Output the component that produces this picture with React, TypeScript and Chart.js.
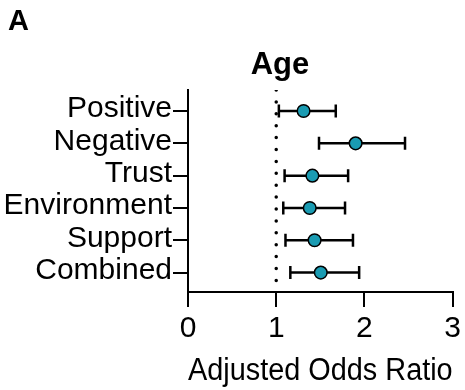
import React, { useEffect, useRef } from "react";
import { Chart, registerables } from "chart.js";

Chart.register(...registerables);

const categories = ["Positive", "Negative", "Trust", "Environment", "Support", "Combined"];
const oddsRatio = [1.31, 1.9, 1.41, 1.38, 1.435, 1.505];
const lowerCI = [1.03, 1.485, 1.095, 1.08, 1.105, 1.16];
const upperCI = [1.675, 2.46, 1.815, 1.78, 1.87, 1.94];
const xTicks = [0, 1, 2, 3];
const referenceValue = 1;

const FONT = "'Liberation Sans', Arial, Helvetica, sans-serif";

const textPlugin = {
  id: "panelText",
  afterDraw(chart: any) {
    const ctx = chart.ctx;
    ctx.save();
    ctx.fillStyle = "#000";
    ctx.textBaseline = "alphabetic";
    ctx.textAlign = "left";
    ctx.font = `bold 29px ${FONT}`;
    ctx.fillText("A", 8, 30);
    ctx.textAlign = "center";
    ctx.font = `bold 31px ${FONT}`;
    ctx.fillText("Age", 280, 74);
    ctx.restore();
  },
};

export default function App() {
  const ref = useRef<HTMLCanvasElement>(null);
  useEffect(() => {
    document.body.style.margin = "0";
    const canvas = ref.current!;
    const errorSets = categories.map((_, i) => ({
      type: "scatter" as const,
      data: [
        { x: lowerCI[i], y: i },
        { x: upperCI[i], y: i },
      ],
      showLine: true,
      borderColor: "#000",
      borderWidth: 2.5,
      pointStyle: "line",
      rotation: 90,
      pointRadius: 6.5,
      pointBorderWidth: 2.5,
      pointBorderColor: "#000",
      order: 2,
    }));
    const chart = new Chart(canvas, {
      type: "scatter",
      data: {
        datasets: [
          {
            data: oddsRatio.map((v, i) => ({ x: v, y: i })),
            backgroundColor: "#1a9bb2",
            borderColor: "#000",
            borderWidth: 1.5,
            pointRadius: 6.3,
            order: 1,
          },
          ...errorSets,
          {
            data: [
              { x: referenceValue, y: -0.65 },
              { x: referenceValue, y: 5.6 },
            ],
            showLine: true,
            borderColor: "#000",
            borderWidth: 3.5,
            borderDash: [0, 11.9],
            borderCapStyle: "round",
            pointRadius: 0,
            order: 3,
          },
        ] as any,
      },
      options: {
        animation: false,
        responsive: false,
        events: [],
        layout: { padding: { left: 0, right: 12, top: 90, bottom: 0 } },
        plugins: {
          legend: { display: false },
          tooltip: { enabled: false },
        },
        scales: {
          x: {
            type: "linear",
            min: 0,
            max: 3,
            afterFit: (s: any) => {
              s.height = 98;
            },
            afterBuildTicks: (s: any) => {
              s.ticks = xTicks.map((v) => ({ value: v }));
            },
            border: { color: "#000", width: 2 },
            grid: {
              drawOnChartArea: false,
              drawTicks: true,
              tickLength: 15,
              color: "#000",
              lineWidth: 2,
            },
            ticks: {
              color: "#000",
              padding: 4,
              font: { family: FONT, size: 30 },
              callback: (v: any) => String(v),
            },
            title: {
              display: true,
              text: "Adjusted Odds Ratio",
              color: "#000",
              font: { family: FONT, size: 31 },
              padding: { top: 5, bottom: 0 },
            },
          },
          y: {
            type: "linear",
            min: -0.65,
            max: 5.6,
            reverse: true,
            afterFit: (s: any) => {
              s.width = 188;
            },
            afterBuildTicks: (s: any) => {
              s.ticks = categories.map((_, i) => ({ value: i }));
            },
            border: { color: "#000", width: 2 },
            grid: {
              drawOnChartArea: false,
              drawTicks: true,
              tickLength: 15,
              color: "#000",
              lineWidth: 2,
            },
            ticks: {
              color: "#000",
              padding: 1,
              labelOffset: -2,
              font: { family: FONT, size: 30 },
              callback: (v: any) => categories[Number(v)] ?? "",
            },
          },
        },
      },
      plugins: [textPlugin],
    });
    return () => chart.destroy();
  }, []);
  return <canvas ref={ref} width={465} height={390} style={{ display: "block" }} />;
}
